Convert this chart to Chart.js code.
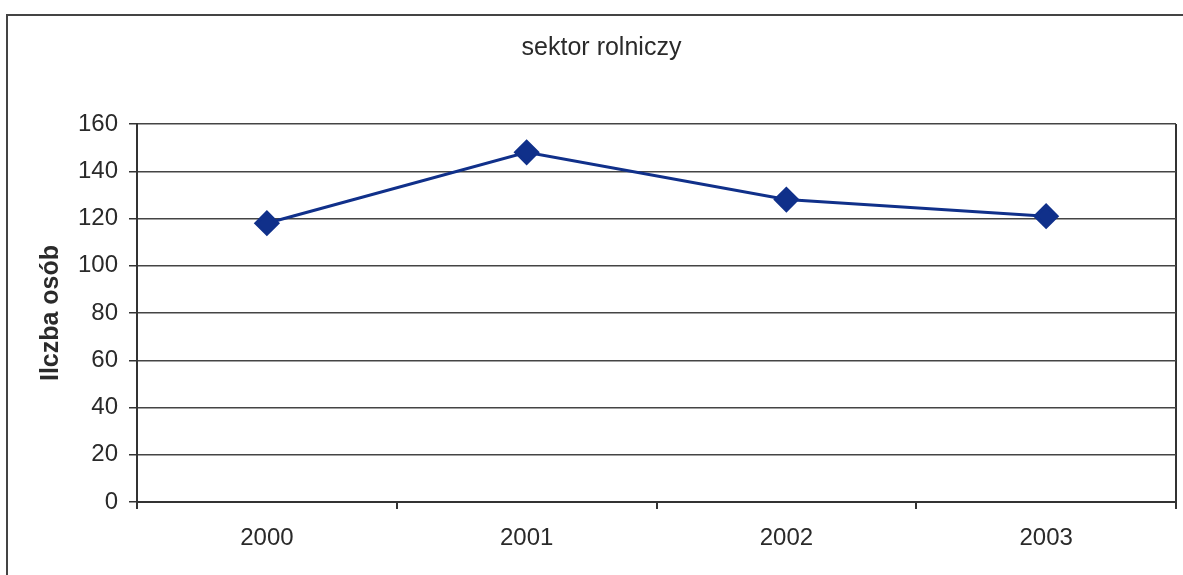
<!DOCTYPE html>
<html>
<head>
<meta charset="utf-8">
<script src="https://cdn.jsdelivr.net/npm/chart.js@4"></script>
<style>
    html, body { margin: 0; padding: 0; background: #fff; overflow: hidden; }
    #frame { position: absolute; left: 6px; top: 14px; width: 1200px; height: 600px; border: 2px solid #444; box-sizing: border-box; }
    #wrap { position: absolute; left: 0; top: 0; width: 1183px; height: 575px; overflow: hidden; }
</style>
</head>
<body>
<div id="frame"></div>
<div id="wrap"><canvas id="myChart" width="1190" height="575"></canvas></div>
<script>
// dane
const years = ['2000', '2001', '2002', '2003'];
const osoby = [118, 148, 128, 121];
const chartTitle = 'sektor rolniczy';
const yTitle = 'Ilczba osób';

const textColor = '#2a2a2a';
const fontName = '"Liberation Sans", Arial, sans-serif';

const ctx = document.getElementById('myChart').getContext('2d');
const chart = new Chart(ctx, {
    type: 'line',
    data: {
        labels: years,
        datasets: [{
            label: chartTitle,
            data: osoby,
            borderColor: '#10308a',
            backgroundColor: '#10308a',
            borderWidth: 3,
            pointStyle: 'rectRot',
            pointRadius: 11,
            pointHoverRadius: 11,
            tension: 0
        }]
    },
    options: {
        responsive: false,
        animation: false,
        layout: { padding: { left: 20, right: 7, top: 0, bottom: 0 } },
        plugins: {
            legend: { display: false },
            tooltip: { enabled: false },
            title: {
                display: true,
                text: chartTitle,
                color: textColor,
                font: { family: fontName, size: 25, weight: 'normal' },
                padding: { top: 33, bottom: 61 }
            }
        },
        scales: {
            x: {
                offset: true,
                grid: {
                    offset: true,
                    drawOnChartArea: true,
                    // tylko lewa i prawa krawędź obszaru wykresu
                    color: function(c) {
                        return (c.type !== 'tick' || c.index === 0) ? '#333' : 'rgba(0,0,0,0)';
                    },
                    tickColor: '#333',
                    tickLength: 7,
                    lineWidth: 2
                },
                border: { display: true, color: '#333', width: 2 },
                ticks: {
                    color: textColor,
                    padding: 15,
                    font: { family: fontName, size: 24 }
                },
                afterFit: function(scale) { scale.height = 73; }
            },
            y: {
                min: 0,
                max: 160,
                grid: {
                    color: '#444',
                    lineWidth: 1.5,
                    tickColor: '#333',
                    tickLength: 8
                },
                border: { display: true, color: '#333', width: 2 },
                ticks: {
                    stepSize: 20,
                    color: textColor,
                    padding: 11,
                    font: { family: fontName, size: 24 }
                },
                title: {
                    display: true,
                    text: yTitle,
                    color: textColor,
                    font: { family: fontName, size: 25, weight: 'bold' },
                    padding: { top: 16, bottom: 0 }
                },
                afterFit: function(scale) { scale.width = 117; }
            }
        }
    }
});
</script>
</body>
</html>
